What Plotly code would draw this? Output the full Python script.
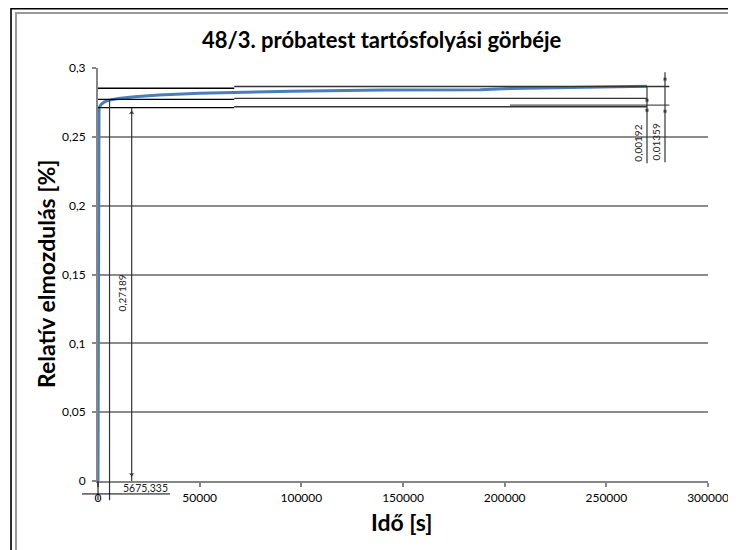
import plotly.graph_objects as go

# ---- data ----
time_s = [0, 200, 500, 1500, 3000, 5000, 10000, 18000, 30000, 50000,
          75000, 95000, 140000, 188000, 203000, 247000, 270000]
strain = [0, 0.2660, 0.2712, 0.2735, 0.2752, 0.2765, 0.2779, 0.2791,
          0.2803, 0.2816, 0.2826, 0.2832, 0.2840, 0.2842, 0.2851, 0.2862, 0.2868]

x_tickvals = [0, 50000, 100000, 150000, 200000, 250000, 300000]
x_ticktext = ["0", "50000", "100000", "150000", "200000", "250000", "300000"]
y_tickvals = [0, 0.05, 0.1, 0.15, 0.2, 0.25, 0.3]
y_ticktext = ["0", "0,05", "0,1", "0,15", "0,2", "0,25", "0,3"]

dim_time = "5675,335"
dim_elastic = "0,27189"
dim_diff = "0,00192"
dim_creep = "0,01359"

title_text = "48/3. próbatest tartósfolyási görbéje"
x_title = "Idő [s]"
y_title = "Relatív elmozdulás [%]"

XMAX = 300000.0
YMAX = 0.3


def xp(t):
    return t / XMAX


def yp(v):
    return v / YMAX


FONT = "Lato"

fig = go.Figure()
fig.add_trace(go.Scatter(x=time_s, y=strain, mode="lines",
                         line=dict(color="#4a7ebb", width=3),
                         hoverinfo="skip", showlegend=False))

shapes = []


def seg(t0, v0, t1, v1, color="black", w=1.2):
    shapes.append(dict(type="line", xref="paper", yref="paper",
                       x0=xp(t0), y0=yp(v0), x1=xp(t1), y1=yp(v1),
                       line=dict(color=color, width=w)))


# horizontal reference levels (drawn shapes in the original)
seg(0, 0.2853, 67000, 0.2853, w=1.4)
seg(67000, 0.2866, 281000, 0.2866, color="#333", w=1.4)
seg(0, 0.2772, 67000, 0.2772, w=1.4)
seg(67000, 0.2779, 270000, 0.2779, color="#333", w=1.4)
seg(0, 0.2712, 67000, 0.2712, w=1.4)
seg(67000, 0.2719, 270000, 0.2719, color="#333", w=1.4)
seg(202600, 0.2731, 281000, 0.2731, color="#555", w=1.2)

# 5675,335 dimension
seg(0, 0, 0, -0.0140, w=1)
seg(5675.335, 0.2772, 5675.335, -0.0140, color="#333", w=1.2)
seg(-7900, -0.0094, 35400, -0.0094, w=1)
# 0,27189 dimension
seg(16570, 0.0, 16570, 0.2712, color="#333", w=1.2)
# 0,00192 dimension
seg(270000, 0.2869, 270000, 0.2309, color="#333", w=1.2)
# 0,01359 dimension
seg(278850, 0.2969, 278850, 0.2316, color="#333", w=1.2)

# chart frame (outer black, inner gray), cropped at right/bottom
shapes.append(dict(type="rect", xref="paper", yref="paper",
                   x0=-0.1426, y0=-0.25, x1=1.08, y1=1.1435,
                   line=dict(color="black", width=1.6)))
shapes.append(dict(type="rect", xref="paper", yref="paper",
                   x0=-0.1344, y0=-0.25, x1=1.07, y1=1.1332,
                   line=dict(color="#9a9a9a", width=2)))

# arrow heads
arrow_x = [-1800, 7600, 16570, 16570, 270000, 270000, 278850, 278850]
arrow_y = [-0.0094, -0.0094, 0.2675, 0.0048, 0.2766, 0.2693, 0.2919, 0.2686]
arrow_sym = ["triangle-right", "triangle-left", "triangle-up", "triangle-down",
             "square", "square", "square", "square"]
fig.add_trace(go.Scatter(x=arrow_x, y=arrow_y, mode="markers",
                         marker=dict(symbol=arrow_sym, size=[6, 6, 6, 6, 4, 4, 4, 4],
                                     color="black"),
                         cliponaxis=False, hoverinfo="skip", showlegend=False))


def note(text, x, y, size, angle=0, color="black"):
    return dict(text=text, xref="paper", yref="paper", x=x, y=y,
                showarrow=False, textangle=angle, xanchor="center",
                yanchor="middle", font=dict(family=FONT, size=size, color=color))


annotations = [
    note("<b>" + title_text + "</b>", (382 - 98) / 610, (481 - 40) / 413, 22),
    note("<b>" + x_title + "</b>", (402 - 98) / 610, (481 - 522) / 413, 23),
    note("<b>" + y_title + "</b>", (46 - 98) / 610, (481 - 274) / 413, 23, -90),
    note(dim_time, xp(23600), yp(-0.0052), 10.5, 0, "#222"),
    note(dim_elastic, xp(12050), yp(0.1365), 10, -90, "#222"),
    note(dim_diff, xp(265600), yp(0.2451), 10, -90, "#222"),
    note(dim_creep, xp(274300), yp(0.2465), 10, -90, "#222"),
]

# the page body has an 8 px margin, so margins are shifted by 8 px
fig.update_layout(
    width=736, height=550, autosize=False,
    margin=dict(l=90, r=36, t=60, b=77, pad=0),
    paper_bgcolor="white", plot_bgcolor="white",
    shapes=shapes, annotations=annotations,
    showlegend=False,
    font=dict(family=FONT, size=12, color="black"),
)
fig.update_xaxes(range=[0, XMAX], tickmode="array", tickvals=x_tickvals,
                 ticktext=x_ticktext, showgrid=False, zeroline=False,
                 showline=True, linecolor="#868686", linewidth=2,
                 ticks="outside", ticklen=4, tickcolor="#868686", tickwidth=1.5,
                 ticklabelstandoff=1, tickfont=dict(family=FONT, size=12))
fig.update_yaxes(range=[0, YMAX], tickmode="array", tickvals=y_tickvals,
                 ticktext=y_ticktext, showgrid=True, gridcolor="#8c8c8c",
                 gridwidth=2, zeroline=False, showline=True, linecolor="#868686",
                 linewidth=2, ticks="outside", ticklen=4, tickcolor="#868686",
                 tickwidth=1.5, ticklabelstandoff=4, tickfont=dict(family=FONT, size=12))

fig.write_html("out.html")
